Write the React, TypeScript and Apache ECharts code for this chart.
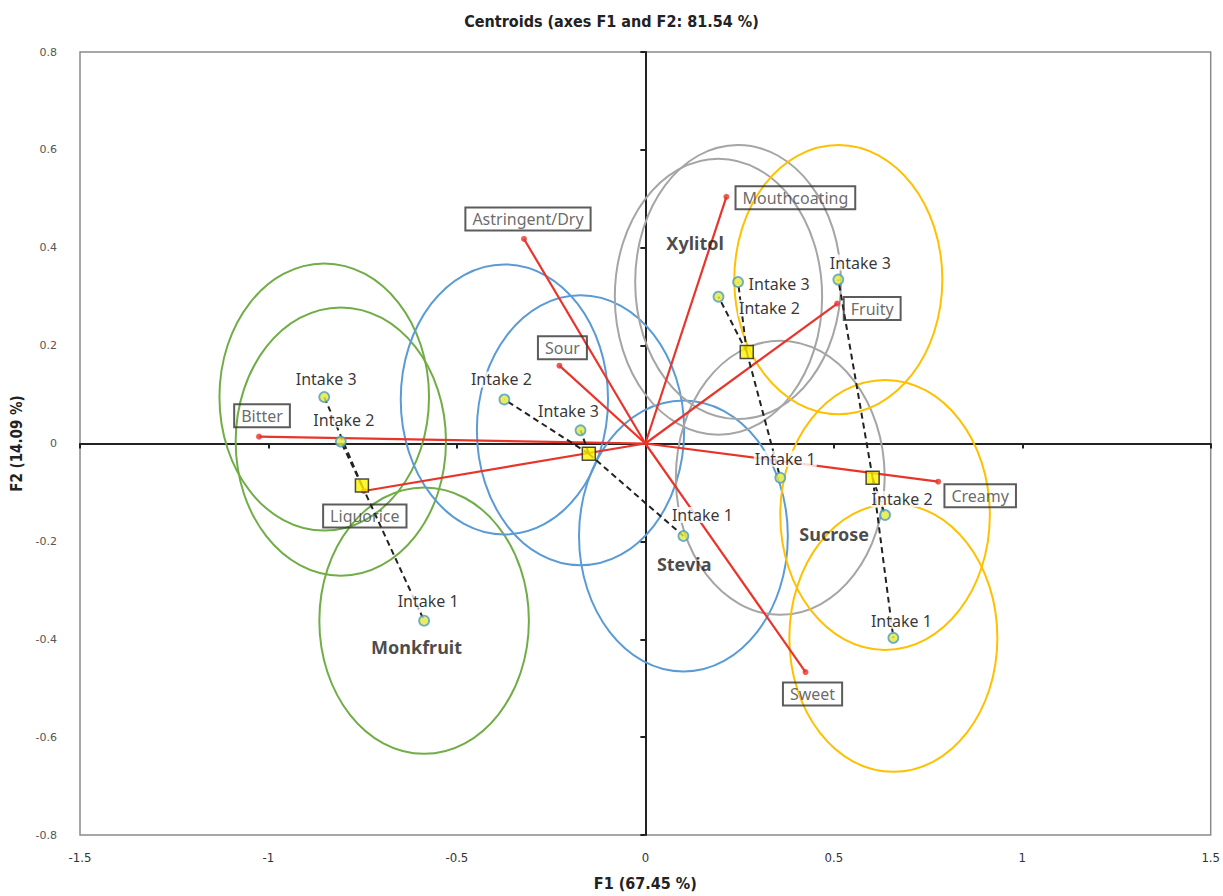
import React, { useEffect, useRef } from 'react';
import * as echarts from 'echarts';

// ---------- data ----------
const intakeNames = ['Intake 1', 'Intake 2', 'Intake 3'];
const sweeteners = ['Monkfruit', 'Stevia', 'Xylitol', 'Sucrose'];

// intake positions (Intake 1, 2, 3)
const monkfruitF1 = [-0.587, -0.808, -0.852];
const monkfruitF2 = [-0.362, 0.004, 0.095];
const steviaF1 = [0.101, -0.374, -0.172];
const steviaF2 = [-0.189, 0.090, 0.027];
const xylitolF1 = [0.358, 0.194, 0.246];
const xylitolF2 = [-0.070, 0.300, 0.330];
const sucroseF1 = [0.658, 0.636, 0.512];
const sucroseF2 = [-0.397, -0.146, 0.335];

// confidence ellipse semi-axes (F1 units, F2 units), Intake 1, 2, 3
const monkfruitRx = [0.278, 0.279, 0.278];
const monkfruitRy = [0.272, 0.274, 0.273];
const steviaRx = [0.277, 0.275, 0.275];
const steviaRy = [0.277, 0.276, 0.276];
const xylitolRx = [0.277, 0.275, 0.273];
const xylitolRy = [0.280, 0.282, 0.280];
const sucroseRx = [0.276, 0.278, 0.276];
const sucroseRy = [0.274, 0.276, 0.275];

// centroids (Monkfruit, Stevia, Xylitol, Sucrose)
const centroidF1 = [-0.752, -0.150, 0.269, 0.603];
const centroidF2 = [-0.086, -0.021, 0.187, -0.070];

// sweetener name annotation positions
const groupLabelF1 = [-0.607, 0.103, 0.132, 0.501];
const groupLabelF2 = [-0.416, -0.246, 0.410, -0.185];

// attribute vectors
const attributes = ['Bitter', 'Liquorice', 'Astringent/Dry', 'Sour', 'Mouthcoating', 'Fruity', 'Creamy', 'Sweet'];
const attrF1 = [-1.025, -0.747, -0.322, -0.228, 0.215, 0.509, 0.777, 0.425];
const attrF2 = [0.014, -0.097, 0.418, 0.159, 0.504, 0.286, -0.078, -0.467];

// ---------- styling ----------
const attrLabelOffsets = [[3, -21], [1, 25], [4, -20], [3, -18], [69, 1], [35, 5], [42, 14], [7, 22]];
const intakeLabelOffsets = [
  [[4, -20], [3, -22], [2, -18]],
  [[19, -21], [-3, -20], [-12, -19]],
  [[5, -19], [51, 11], [41, 2]],
  [[8, -17], [17, -16], [22, -17]],
];
const groupColors = ['#70AD47', '#5B9BD5', '#A5A5A5', '#FFC000'];
const RED = '#E8352B';
const FONT = '"Noto Sans", "Open Sans", sans-serif';
const NARROW = '"Liberation Sans Narrow", "DejaVu Sans Condensed", "Liberation Sans", sans-serif';

export default function App() {
  const ref = useRef<HTMLDivElement>(null);

  useEffect(() => {
    if (!ref.current) return;
    const chart = echarts.init(ref.current, null, { renderer: 'svg' });

    const groups = [
      { f1: monkfruitF1, f2: monkfruitF2, rx: monkfruitRx, ry: monkfruitRy },
      { f1: steviaF1, f2: steviaF2, rx: steviaRx, ry: steviaRy },
      { f1: xylitolF1, f2: xylitolF2, rx: xylitolRx, ry: xylitolRy },
      { f1: sucroseF1, f2: sucroseF2, rx: sucroseRx, ry: sucroseRy },
    ];

    const series: any[] = [];

    // ellipses
    groups.forEach((g, gi) => {
      const color = groupColors[gi];
      series.push({
        type: 'custom',
        name: sweeteners[gi] + ' ellipses',
        coordinateSystem: 'cartesian2d',
        silent: true,
        z: 1,
        clip: false,
        encode: { x: 0, y: 1 },
        data: g.f1.map((x, i) => [x, g.f2[i], g.rx[i], g.ry[i]]),
        renderItem: (_p: any, api: any) => {
          const c = api.coord([api.value(0), api.value(1)]);
          const s = api.size([api.value(2), api.value(3)]);
          return {
            type: 'ellipse',
            shape: { cx: c[0], cy: c[1], rx: s[0], ry: s[1] },
            style: { fill: 'none', stroke: color, lineWidth: 2 },
          };
        },
      });
    });

    // attribute vectors
    series.push({
      type: 'custom',
      name: 'vectors',
      coordinateSystem: 'cartesian2d',
      silent: true,
      z: 3,
      encode: { x: 0, y: 1 },
      data: attrF1.map((x, i) => [x, attrF2[i]]),
      renderItem: (_p: any, api: any) => {
        const o = api.coord([0, 0]);
        const e = api.coord([api.value(0), api.value(1)]);
        return {
          type: 'line',
          shape: { x1: o[0], y1: o[1], x2: e[0], y2: e[1] },
          style: { stroke: RED, lineWidth: 2.2 },
        };
      },
    });

    // dashed centroid-to-intake lines
    const dashData: number[][] = [];
    groups.forEach((g, gi) => {
      g.f1.forEach((x, i) => dashData.push([centroidF1[gi], centroidF2[gi], x, g.f2[i]]));
    });
    series.push({
      type: 'custom',
      name: 'links',
      coordinateSystem: 'cartesian2d',
      silent: true,
      z: 4,
      encode: { x: [0, 2], y: [1, 3] },
      data: dashData,
      renderItem: (_p: any, api: any) => {
        const a = api.coord([api.value(0), api.value(1)]);
        const b = api.coord([api.value(2), api.value(3)]);
        return {
          type: 'line',
          shape: { x1: a[0], y1: a[1], x2: b[0], y2: b[1] },
          style: { stroke: '#222', lineWidth: 2, lineDash: [6, 4] },
        };
      },
    });

    // attribute end points + boxed labels
    series.push({
      type: 'scatter',
      name: 'Attributes',
      z: 5,
      symbol: 'circle',
      symbolSize: 6,
      itemStyle: { color: RED },
      data: attributes.map((n, i) => ({
        name: n,
        value: [attrF1[i], attrF2[i]],
        label: { offset: attrLabelOffsets[i] },
      })),
      label: {
        show: true,
        position: 'inside',
        formatter: (p: any) => p.name,
        color: '#444',
        fontFamily: FONT,
        fontSize: 16,
        borderColor: '#333',
        borderWidth: 2,
        padding: [4, 7, 3, 7],
      },
    });

    // intake points
    groups.forEach((g, gi) => {
      series.push({
        type: 'scatter',
        name: sweeteners[gi],
        z: 6,
        symbol: 'circle',
        symbolSize: 10,
        itemStyle: { color: '#E2E83A', borderColor: '#4A9BC4', borderWidth: 1.8 },
        data: g.f1.map((x, i) => ({
          name: intakeNames[i],
          value: [x, g.f2[i]],
          label: { offset: intakeLabelOffsets[gi][i] },
        })),
        label: {
          show: true,
          position: 'inside',
          formatter: (p: any) => p.name,
          color: '#000',
          fontFamily: FONT,
          fontSize: 16,
          backgroundColor: '#fff',
          padding: [0, 1],
        },
      });
    });

    // centroids
    series.push({
      type: 'scatter',
      name: 'Centroids',
      z: 7,
      symbol: 'rect',
      symbolSize: 13,
      itemStyle: { color: '#FFF200', borderColor: '#222', borderWidth: 1.5 },
      data: centroidF1.map((x, i) => ({ name: sweeteners[i], value: [x, centroidF2[i]] })),
    });

    // sweetener names
    series.push({
      type: 'scatter',
      name: 'Sweeteners',
      z: 8,
      symbolSize: 1,
      itemStyle: { color: 'rgba(0,0,0,0)' },
      data: sweeteners.map((n, i) => ({ name: n, value: [groupLabelF1[i], groupLabelF2[i]] })),
      label: {
        show: true,
        position: 'inside',
        formatter: (p: any) => p.name,
        color: '#1a1a1a',
        fontFamily: FONT,
        fontWeight: 'bold',
        fontSize: 18,
      },
    });

    chart.setOption({
      animation: false,
      backgroundColor: '#fff',
      title: {
        text: 'Centroids (axes F1 and F2: 81.54 %)',
        left: 'center',
        top: 8,
        textStyle: { fontSize: 16, fontWeight: 'bold', fontFamily: NARROW, color: '#222' },
      },
      grid: {
        left: 80,
        right: 11,
        top: 52,
        bottom: 56,
        show: true,
        borderColor: '#8a8a8a',
        borderWidth: 1.5,
      },
      xAxis: [
        {
          type: 'value',
          min: -1.5,
          max: 1.5,
          interval: 0.5,
          position: 'bottom',
          axisLine: { show: false, onZero: false },
          axisTick: { show: false },
          splitLine: { show: false },
          axisLabel: { color: '#333', fontSize: 13, fontFamily: NARROW, margin: 16 },
          name: 'F1 (67.45 %)',
          nameLocation: 'middle',
          nameGap: 40,
          nameTextStyle: { fontSize: 16, fontWeight: 'bold', fontFamily: NARROW, color: '#222' },
        },
        {
          type: 'value',
          min: -1.5,
          max: 1.5,
          interval: 0.5,
          position: 'bottom',
          axisLine: { show: true, onZero: true, lineStyle: { color: '#222', width: 2 } },
          axisTick: { show: true, length: 5, lineStyle: { color: '#222', width: 2 } },
          axisLabel: { show: false },
          splitLine: { show: false },
        },
      ],
      yAxis: [
        {
          type: 'value',
          min: -0.8,
          max: 0.8,
          interval: 0.2,
          position: 'left',
          axisLine: { show: false, onZero: false },
          axisTick: { show: false },
          splitLine: { show: false },
          axisLabel: {
            color: '#555',
            fontSize: 11,
            fontFamily: '"DejaVu Sans", sans-serif',
            margin: 23,
            formatter: (v: number) => String(Math.round(v * 10) / 10),
          },
          name: 'F2 (14.09 %)',
          nameLocation: 'middle',
          nameGap: 56,
          nameTextStyle: { fontSize: 15, fontWeight: 'bold', fontFamily: NARROW, color: '#222' },
        },
        {
          type: 'value',
          min: -0.8,
          max: 0.8,
          interval: 0.2,
          position: 'left',
          axisLine: { show: true, onZero: true, lineStyle: { color: '#222', width: 2 } },
          axisTick: { show: true, length: 5, lineStyle: { color: '#222', width: 2 } },
          axisLabel: { show: false },
          splitLine: { show: false },
        },
      ],
      series,
    });

    return () => chart.dispose();
  }, []);

  return (
    <div
      ref={ref}
      style={{ position: 'fixed', left: 0, top: 0, width: 1223, height: 896, background: '#fff' }}
    />
  );
}
